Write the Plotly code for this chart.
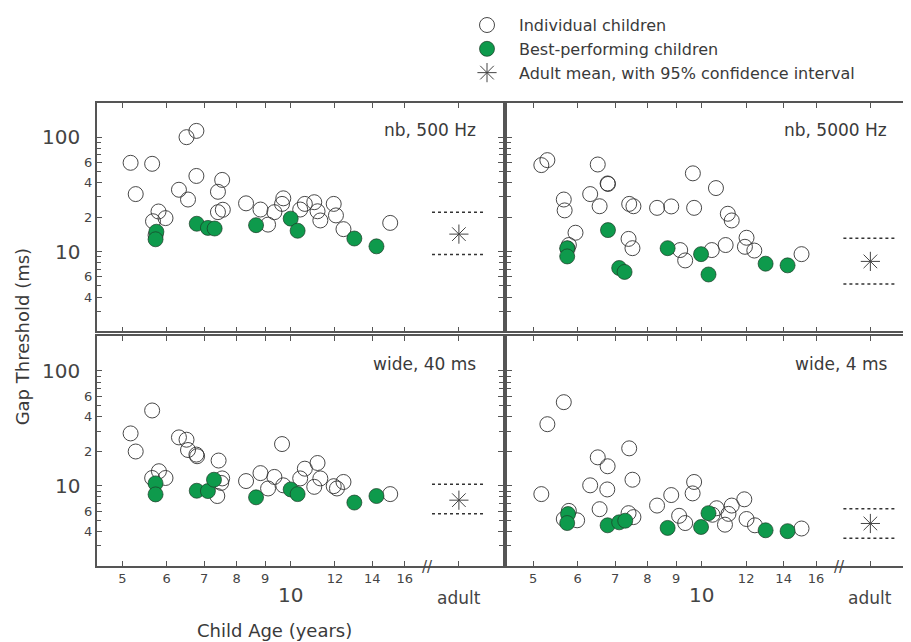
import plotly.graph_objects as go
import numpy as np

# ---------------- data ----------------
panel_titles = ["nb, 500 Hz", "nb, 5000 Hz", "wide, 40 ms", "wide, 4 ms"]

# Individual children (age in years, gap threshold in ms)
ind_age_nb500 = [5.17, 5.28, 5.65, 5.67, 5.80, 5.97, 5.73, 6.31, 6.51, 6.78, 6.55, 6.78, 7.41, 7.54, 7.41, 7.56,
                 8.32, 8.83, 9.11, 9.35, 9.65, 9.70, 10.4, 10.6, 11.02, 11.17, 11.3, 11.94, 12.05, 12.43, 15.07]
ind_thr_nb500 = [59.7, 31.8, 58.5, 18.4, 22.4, 19.6, 13.9, 34.7, 100, 113.5, 28.5, 45.8, 33.3, 42.3, 22.1, 23.2,
                 26.4, 23.3, 17.2, 22.1, 26.1, 29.2, 23.3, 26.1, 27.0, 22.5, 18.7, 26.1, 20.7, 15.7, 17.8]

ind_age_nb5000 = [5.17, 5.30, 5.67, 5.69, 5.95, 5.79, 5.76, 6.32, 6.52, 6.79, 6.80, 6.57, 7.42, 7.55, 7.40, 7.52,
                  8.32, 8.82, 9.15, 9.34, 9.64, 9.69, 10.42, 10.6, 11.03, 11.13, 11.31, 12.02, 11.94, 12.41, 15.07]
ind_thr_nb5000 = [57.0, 63.0, 28.5, 22.9, 14.6, 11.4, 10.6, 31.8, 57.7, 39.4, 39.0, 24.9, 26.1, 24.9, 12.9, 10.7,
                  24.1, 24.8, 10.3, 8.36, 48.3, 24.1, 10.3, 35.9, 11.4, 21.4, 18.7, 13.2, 11.0, 10.2, 9.49]

ind_age_w40 = [5.17, 5.28, 5.65, 5.65, 5.81, 5.97, 6.31, 6.51, 6.55, 6.78, 6.80, 7.43, 7.54, 7.51, 7.39,
               8.32, 8.83, 9.11, 9.35, 9.65, 9.70, 10.4, 10.6, 11.02, 11.17, 11.3, 11.94, 12.1, 12.43, 15.07]
ind_thr_w40 = [28.6, 19.9, 45.3, 11.7, 13.4, 11.7, 26.4, 25.2, 20.5, 18.7, 18.1, 16.6, 11.6, 10.6, 8.15,
               11.0, 12.9, 9.48, 11.95, 23.1, 10.1, 11.6, 14.1, 9.8, 15.8, 11.6, 9.93, 9.48, 10.8, 8.47]

ind_age_w4 = [5.17, 5.30, 5.67, 5.79, 5.67, 5.99, 6.32, 6.52, 6.79, 6.78, 6.57, 7.42, 7.52, 7.40, 7.55,
              8.32, 8.82, 9.11, 9.34, 9.69, 9.63, 10.63, 10.45, 11.0, 11.16, 11.31, 11.91, 12.02, 12.44, 15.07]
ind_thr_w4 = [8.47, 34.4, 53.5, 6.05, 5.14, 5.01, 10.1, 17.7, 14.8, 9.3, 6.26, 21.2, 11.3, 5.78, 5.34,
              6.73, 8.31, 5.48, 4.74, 10.8, 8.59, 6.38, 5.6, 4.59, 5.70, 6.73, 7.63, 5.14, 4.53, 4.25]

# Best-performing children
best_age_nb500 = [5.75, 5.73, 6.79, 7.11, 7.31, 8.67, 10.0, 10.29, 13.0, 14.24]
best_thr_nb500 = [14.9, 12.8, 17.5, 16.1, 15.9, 17.0, 19.4, 15.2, 13.0, 11.1]

best_age_nb5000 = [5.75, 5.75, 6.80, 7.12, 7.28, 8.69, 9.97, 10.28, 13.0, 14.23]
best_thr_nb5000 = [10.7, 9.06, 15.4, 7.18, 6.63, 10.7, 9.49, 6.30, 7.83, 7.57]

best_age_w40 = [5.73, 5.73, 6.79, 7.11, 7.29, 8.67, 10.0, 10.29, 13.0, 14.24]
best_thr_w40 = [10.5, 8.42, 9.06, 9.0, 11.3, 7.94, 9.30, 8.47, 7.15, 8.15]

best_age_w4 = [5.77, 5.75, 6.79, 7.12, 7.30, 8.69, 9.97, 10.28, 13.0, 14.23]
best_thr_w4 = [5.68, 4.74, 4.53, 4.81, 4.97, 4.30, 4.38, 5.78, 4.10, 4.03]

# Adults: mean and 95% confidence interval (ms)
adult_mean = [14.2, 8.2, 7.5, 4.7]
adult_ci_low = [9.4, 5.2, 5.7, 3.5]
adult_ci_high = [22.1, 13.1, 10.3, 6.3]

adult_position = 20          # age slot where "adult" is plotted on the log axis
ci_span = [17.9, 22.2]       # horizontal extent of the CI dotted lines

x_tickvals = [5, 6, 7, 8, 9, 10, 12, 14, 16, 20]
x_ticktext = ["5", "6", "7", "8", "9", "", "12", "14", "16", ""]
y_tickvals = [4, 6, 10, 20, 40, 60, 100]
y_ticktext = ["4", "6", "", "2", "4", "6", ""]
y_minor = [3, 5, 7, 8, 9, 30, 50, 70, 80, 90]
y_big_labels = [10, 100]

ind_ages = [ind_age_nb500, ind_age_nb5000, ind_age_w40, ind_age_w4]
ind_thrs = [ind_thr_nb500, ind_thr_nb5000, ind_thr_w40, ind_thr_w4]
best_ages = [best_age_nb500, best_age_nb5000, best_age_w40, best_age_w4]
best_thrs = [best_thr_nb500, best_thr_nb5000, best_thr_w40, best_thr_w4]

# ---------------- figure ----------------
OFF = 8                      # default page body margin
W, H = 911 - OFF, 642 - OFF
FONT = "DejaVu Sans"
AX = "#555555"
TXT = "#3a3a3a"
GREEN = "#0e9a4c"

def px_x(p):
    return (p - OFF) / W

def px_y(p):
    return 1 - (p - OFF) / H

dom_x = [[px_x(97), px_x(504)], [px_x(508), 1.0], [px_x(97), px_x(504)], [px_x(508), 1.0]]
dom_y = [[px_y(327), px_y(95)], [px_y(327), px_y(95)], [px_y(565), px_y(332)], [px_y(565), px_y(332)]]
x_ranges = [[0.653, 1.3798], [0.652, 1.370], [0.653, 1.3798], [0.652, 1.370]]
y_range = [np.log10(2), np.log10(200)]

fig = go.Figure()
layout = dict(width=W, height=H, margin=dict(l=0, r=0, t=0, b=0),
              plot_bgcolor="white", paper_bgcolor="white",
              font=dict(family=FONT, color=TXT), showlegend=True)

annotations = []
for i in range(4):
    n = i + 1
    xa = "x" if n == 1 else f"x{n}"
    ya = "y" if n == 1 else f"y{n}"
    bottom = i >= 2
    left = i % 2 == 0

    layout["xaxis" if n == 1 else f"xaxis{n}"] = dict(
        type="log", domain=dom_x[i], range=x_ranges[i], anchor=ya,
        showline=True, linecolor=AX, linewidth=1.6, mirror="ticks",
        ticks="inside", ticklen=5, tickwidth=1.2, tickcolor=AX,
        tickvals=x_tickvals, ticktext=x_ticktext,
        showticklabels=bottom, tickfont=dict(size=13, color="#444"),
        showgrid=False, zeroline=False)
    layout["yaxis" if n == 1 else f"yaxis{n}"] = dict(
        type="log", domain=dom_y[i], range=y_range, anchor=xa,
        showline=True, linecolor=AX, linewidth=1.6, mirror="ticks",
        ticks="inside", ticklen=5, tickwidth=1.2, tickcolor=AX,
        tickvals=y_tickvals, ticktext=y_ticktext,
        minor=dict(tickvals=y_minor, ticks="inside", ticklen=4, tickcolor=AX, tickwidth=1),
        showticklabels=left, tickfont=dict(size=13, color="#444"),
        showgrid=False, zeroline=False)

    # individual children
    fig.add_trace(go.Scatter(
        x=ind_ages[i], y=ind_thrs[i], mode="markers", xaxis=xa, yaxis=ya,
        name="Individual children", legendgroup="ind", showlegend=(i == 0),
        marker=dict(symbol="circle", size=15, color="rgba(255,255,255,0)",
                    line=dict(color="#333333", width=0.9))))
    # best-performing
    fig.add_trace(go.Scatter(
        x=best_ages[i], y=best_thrs[i], mode="markers", xaxis=xa, yaxis=ya,
        name="Best-performing children", legendgroup="best", showlegend=(i == 0),
        marker=dict(symbol="circle", size=15, color=GREEN,
                    line=dict(color="#1d3b27", width=0.7))))
    # adult CI dotted lines
    for lim in (adult_ci_low[i], adult_ci_high[i]):
        fig.add_trace(go.Scatter(
            x=ci_span, y=[lim, lim], mode="lines", xaxis=xa, yaxis=ya,
            showlegend=False, hoverinfo="skip",
            line=dict(color="#333333", width=1.5, dash="dot")))
    # adult mean
    fig.add_trace(go.Scatter(
        x=[adult_position], y=[adult_mean[i]], mode="markers", xaxis=xa, yaxis=ya,
        name="Adult mean, with 95% confidence interval", legendgroup="adult",
        showlegend=(i == 0),
        marker=dict(symbol="asterisk-open", size=16, color="#444444",
                    line=dict(color="#444444", width=1))))

    # panel label
    annotations.append(dict(
        text=panel_titles[i], xref="paper", yref="paper",
        x=px_x(479 if left else 891), y=px_y(123 if i < 2 else 360),
        xanchor="right", yanchor="middle", showarrow=False,
        font=dict(size=17, color=TXT)))

    # big y labels
    if left:
        for v in y_big_labels:
            annotations.append(dict(
                text=str(v), xref="paper", yref=ya, x=px_x(82), y=np.log10(v),
                xanchor="right", yanchor="middle", showarrow=False,
                font=dict(size=20, color="#444")))
    # big x labels and axis break
    if bottom:
        annotations.append(dict(text="10", xref=xa, yref="paper", x=1.0, y=px_y(594),
                                xanchor="center", yanchor="middle", showarrow=False,
                                font=dict(size=20, color="#444")))
        annotations.append(dict(text="adult", xref=xa, yref="paper", x=np.log10(adult_position),
                                y=px_y(597), xanchor="center", yanchor="middle", showarrow=False,
                                font=dict(size=17, color="#444")))
        annotations.append(dict(text="//", xref=xa, yref="paper", x=np.log10(17.6), y=px_y(566),
                                xanchor="center", yanchor="middle", showarrow=False,
                                font=dict(size=15, color="#444"), bgcolor="rgba(0,0,0,0)"))

annotations.append(dict(text="Gap Threshold (ms)", xref="paper", yref="paper",
                        x=px_x(22), y=px_y(332), textangle=-90, showarrow=False,
                        xanchor="center", yanchor="middle", font=dict(size=18, color=TXT)))
annotations.append(dict(text="Child Age (years)", xref="paper", yref="paper",
                        x=px_x(275), y=px_y(630), showarrow=False,
                        xanchor="center", yanchor="middle", font=dict(size=18, color=TXT)))

layout["annotations"] = annotations
layout["legend"] = dict(x=px_x(456), y=px_y(-1), xanchor="left", yanchor="top",
                        font=dict(size=16, color=TXT), bgcolor="rgba(0,0,0,0)",
                        itemwidth=54, tracegroupgap=0)
fig.update_layout(**layout)
fig.write_html("out.html")
